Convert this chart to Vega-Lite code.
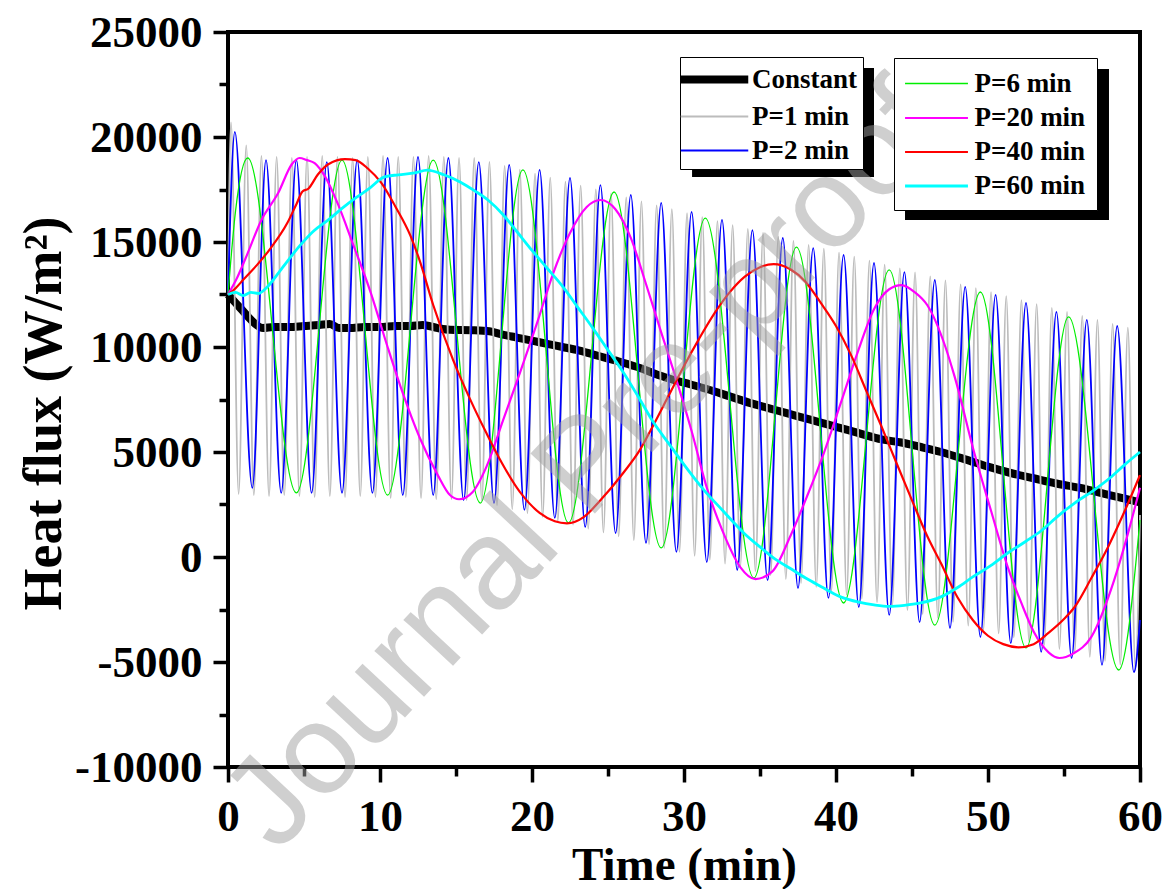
{
"$schema": "https://vega.github.io/schema/vega-lite/v6.json",
"width": 912, "height": 735,
"autosize": {"type": "none"},
"padding": {"left": 228, "top": 32, "right": 29, "bottom": 122},
"background": "white",
"config": {
  "view": {"stroke": "black", "strokeWidth": 4},
  "axis": {"domain": false, "grid": false, "tickColor": "black", "tickWidth": 3.5, "labelFont": "Liberation Serif", "labelFontWeight": "bold", "labelFontSize": 45, "labelColor": "black", "titleFont": "Liberation Serif", "titleFontWeight": "bold", "titleColor": "black", "labelFlush": false, "labelOverlap": false},
  "legend": {"labelFont": "Liberation Serif", "labelFontWeight": "bold", "labelFontSize": 27, "labelColor": "black", "strokeColor": "black", "fillColor": "white"}
},
"data": {"values": [
{"series":"Constant","t":0,"flux":12500},{"series":"Constant","t":0.5,"flux":12100},{"series":"Constant","t":1,"flux":11700},{"series":"Constant","t":1.5,"flux":11300},{"series":"Constant","t":2.3,"flux":10900},{"series":"Constant","t":3,"flux":10950},{"series":"Constant","t":4,"flux":10950},{"series":"Constant","t":5,"flux":11000},{"series":"Constant","t":6,"flux":11050},{"series":"Constant","t":6.7,"flux":11100},{"series":"Constant","t":7.3,"flux":10900},{"series":"Constant","t":8,"flux":10900},{"series":"Constant","t":9,"flux":10950},{"series":"Constant","t":10,"flux":10950},{"series":"Constant","t":11,"flux":11000},{"series":"Constant","t":12,"flux":11000},{"series":"Constant","t":12.8,"flux":11050},{"series":"Constant","t":13.8,"flux":10900},{"series":"Constant","t":14.6,"flux":10820},{"series":"Constant","t":16,"flux":10800},{"series":"Constant","t":17.2,"flux":10750},{"series":"Constant","t":18,"flux":10600},{"series":"Constant","t":19,"flux":10450},{"series":"Constant","t":20,"flux":10300},{"series":"Constant","t":21,"flux":10150},{"series":"Constant","t":22,"flux":10000},{"series":"Constant","t":23,"flux":9850},{"series":"Constant","t":24,"flux":9650},{"series":"Constant","t":25,"flux":9450},{"series":"Constant","t":26,"flux":9250},{"series":"Constant","t":27.1,"flux":9000},{"series":"Constant","t":28,"flux":8750},{"series":"Constant","t":29,"flux":8500},{"series":"Constant","t":30,"flux":8300},{"series":"Constant","t":31.5,"flux":8000},{"series":"Constant","t":33,"flux":7650},{"series":"Constant","t":34.5,"flux":7300},{"series":"Constant","t":36,"flux":7000},{"series":"Constant","t":37.5,"flux":6700},{"series":"Constant","t":39,"flux":6400},{"series":"Constant","t":40,"flux":6200},{"series":"Constant","t":41.5,"flux":5900},{"series":"Constant","t":43,"flux":5600},{"series":"Constant","t":44.3,"flux":5450},{"series":"Constant","t":45.5,"flux":5250},{"series":"Constant","t":46.9,"flux":5000},{"series":"Constant","t":48.5,"flux":4650},{"series":"Constant","t":50,"flux":4300},{"series":"Constant","t":51.5,"flux":4000},{"series":"Constant","t":53,"flux":3750},{"series":"Constant","t":54.5,"flux":3500},{"series":"Constant","t":56,"flux":3300},{"series":"Constant","t":58,"flux":2950},{"series":"Constant","t":60,"flux":2600},
{"series":"P=1 min","t":0,"flux":12500},{"series":"P=1 min","t":0.2,"flux":20700},{"series":"P=1 min","t":0.7,"flux":3000},{"series":"P=1 min","t":1.2,"flux":19600},{"series":"P=1 min","t":1.7,"flux":2950},{"series":"P=1 min","t":2.2,"flux":19100},{"series":"P=1 min","t":2.7,"flux":2900},{"series":"P=1 min","t":3.2,"flux":19050},{"series":"P=1 min","t":3.7,"flux":2950},{"series":"P=1 min","t":4.2,"flux":19000},{"series":"P=1 min","t":4.7,"flux":2900},{"series":"P=1 min","t":5.2,"flux":19050},{"series":"P=1 min","t":5.7,"flux":2850},{"series":"P=1 min","t":6.2,"flux":19100},{"series":"P=1 min","t":6.7,"flux":2900},{"series":"P=1 min","t":7.2,"flux":19050},{"series":"P=1 min","t":7.7,"flux":2850},{"series":"P=1 min","t":8.2,"flux":19000},{"series":"P=1 min","t":8.7,"flux":2900},{"series":"P=1 min","t":9.2,"flux":19050},{"series":"P=1 min","t":9.7,"flux":2850},{"series":"P=1 min","t":10.2,"flux":19100},{"series":"P=1 min","t":10.7,"flux":2800},{"series":"P=1 min","t":11.2,"flux":19050},{"series":"P=1 min","t":11.7,"flux":2850},{"series":"P=1 min","t":12.2,"flux":19050},{"series":"P=1 min","t":12.7,"flux":2800},{"series":"P=1 min","t":13.2,"flux":19100},{"series":"P=1 min","t":13.7,"flux":2750},{"series":"P=1 min","t":14.2,"flux":19050},{"series":"P=1 min","t":14.7,"flux":2750},{"series":"P=1 min","t":15.2,"flux":19000},{"series":"P=1 min","t":15.7,"flux":2700},{"series":"P=1 min","t":16.2,"flux":19000},{"series":"P=1 min","t":16.7,"flux":2650},{"series":"P=1 min","t":17.2,"flux":18810},{"series":"P=1 min","t":17.7,"flux":2460},{"series":"P=1 min","t":18.2,"flux":18620},{"series":"P=1 min","t":18.7,"flux":2280},{"series":"P=1 min","t":19.2,"flux":18440},{"series":"P=1 min","t":19.7,"flux":2090},{"series":"P=1 min","t":20.2,"flux":18250},{"series":"P=1 min","t":20.7,"flux":1910},{"series":"P=1 min","t":21.2,"flux":18060},{"series":"P=1 min","t":21.7,"flux":1720},{"series":"P=1 min","t":22.2,"flux":17870},{"series":"P=1 min","t":22.7,"flux":1540},{"series":"P=1 min","t":23.2,"flux":17680},{"series":"P=1 min","t":23.7,"flux":1350},{"series":"P=1 min","t":24.2,"flux":17500},{"series":"P=1 min","t":24.7,"flux":1170},{"series":"P=1 min","t":25.2,"flux":17310},{"series":"P=1 min","t":25.7,"flux":980},{"series":"P=1 min","t":26.2,"flux":17120},{"series":"P=1 min","t":26.7,"flux":800},{"series":"P=1 min","t":27.2,"flux":16930},{"series":"P=1 min","t":27.7,"flux":610},{"series":"P=1 min","t":28.2,"flux":16740},{"series":"P=1 min","t":28.7,"flux":430},{"series":"P=1 min","t":29.2,"flux":16560},{"series":"P=1 min","t":29.7,"flux":240},{"series":"P=1 min","t":30.2,"flux":16370},{"series":"P=1 min","t":30.7,"flux":60},{"series":"P=1 min","t":31.2,"flux":16180},{"series":"P=1 min","t":31.7,"flux":-130},{"series":"P=1 min","t":32.2,"flux":15990},{"series":"P=1 min","t":32.7,"flux":-310},{"series":"P=1 min","t":33.2,"flux":15800},{"series":"P=1 min","t":33.7,"flux":-500},{"series":"P=1 min","t":34.2,"flux":15620},{"series":"P=1 min","t":34.7,"flux":-680},{"series":"P=1 min","t":35.2,"flux":15430},{"series":"P=1 min","t":35.7,"flux":-870},{"series":"P=1 min","t":36.2,"flux":15240},{"series":"P=1 min","t":36.7,"flux":-1050},{"series":"P=1 min","t":37.2,"flux":15050},{"series":"P=1 min","t":37.7,"flux":-1240},{"series":"P=1 min","t":38.2,"flux":14860},{"series":"P=1 min","t":38.7,"flux":-1420},{"series":"P=1 min","t":39.2,"flux":14680},{"series":"P=1 min","t":39.7,"flux":-1610},{"series":"P=1 min","t":40.2,"flux":14490},{"series":"P=1 min","t":40.7,"flux":-1790},{"series":"P=1 min","t":41.2,"flux":14300},{"series":"P=1 min","t":41.7,"flux":-1980},{"series":"P=1 min","t":42.2,"flux":14110},{"series":"P=1 min","t":42.7,"flux":-2160},{"series":"P=1 min","t":43.2,"flux":13920},{"series":"P=1 min","t":43.7,"flux":-2350},{"series":"P=1 min","t":44.2,"flux":13740},{"series":"P=1 min","t":44.7,"flux":-2530},{"series":"P=1 min","t":45.2,"flux":13550},{"series":"P=1 min","t":45.7,"flux":-2720},{"series":"P=1 min","t":46.2,"flux":13360},{"series":"P=1 min","t":46.7,"flux":-2900},{"series":"P=1 min","t":47.2,"flux":13170},{"series":"P=1 min","t":47.7,"flux":-3090},{"series":"P=1 min","t":48.2,"flux":12980},{"series":"P=1 min","t":48.7,"flux":-3270},{"series":"P=1 min","t":49.2,"flux":12800},{"series":"P=1 min","t":49.7,"flux":-3460},{"series":"P=1 min","t":50.2,"flux":12610},{"series":"P=1 min","t":50.7,"flux":-3640},{"series":"P=1 min","t":51.2,"flux":12420},{"series":"P=1 min","t":51.7,"flux":-3830},{"series":"P=1 min","t":52.2,"flux":12230},{"series":"P=1 min","t":52.7,"flux":-4010},{"series":"P=1 min","t":53.2,"flux":12040},{"series":"P=1 min","t":53.7,"flux":-4200},{"series":"P=1 min","t":54.2,"flux":11860},{"series":"P=1 min","t":54.7,"flux":-4380},{"series":"P=1 min","t":55.2,"flux":11670},{"series":"P=1 min","t":55.7,"flux":-4570},{"series":"P=1 min","t":56.2,"flux":11480},{"series":"P=1 min","t":56.7,"flux":-4750},{"series":"P=1 min","t":57.2,"flux":11290},{"series":"P=1 min","t":57.7,"flux":-4940},{"series":"P=1 min","t":58.2,"flux":11100},{"series":"P=1 min","t":58.7,"flux":-5120},{"series":"P=1 min","t":59.2,"flux":10920},{"series":"P=1 min","t":59.7,"flux":-5310},{"series":"P=1 min","t":60,"flux":2000},
{"series":"P=2 min","t":0,"flux":12500},{"series":"P=2 min","t":0.45,"flux":20240},{"series":"P=2 min","t":1.6,"flux":3290},{"series":"P=2 min","t":2.5,"flux":18900},{"series":"P=2 min","t":3.5,"flux":3050},{"series":"P=2 min","t":4.5,"flux":18900},{"series":"P=2 min","t":5.5,"flux":3050},{"series":"P=2 min","t":6.5,"flux":18800},{"series":"P=2 min","t":7.5,"flux":3050},{"series":"P=2 min","t":8.5,"flux":18900},{"series":"P=2 min","t":9.5,"flux":3050},{"series":"P=2 min","t":10.5,"flux":19000},{"series":"P=2 min","t":11.5,"flux":2950},{"series":"P=2 min","t":12.5,"flux":19050},{"series":"P=2 min","t":13.5,"flux":2950},{"series":"P=2 min","t":14.5,"flux":19000},{"series":"P=2 min","t":15.5,"flux":2710},{"series":"P=2 min","t":16.5,"flux":18800},{"series":"P=2 min","t":17.5,"flux":2570},{"series":"P=2 min","t":18.5,"flux":18670},{"series":"P=2 min","t":19.5,"flux":2240},{"series":"P=2 min","t":20.5,"flux":18430},{"series":"P=2 min","t":21.5,"flux":1860},{"series":"P=2 min","t":22.5,"flux":18050},{"series":"P=2 min","t":23.5,"flux":1430},{"series":"P=2 min","t":24.5,"flux":17710},{"series":"P=2 min","t":25.5,"flux":1140},{"series":"P=2 min","t":26.5,"flux":17240},{"series":"P=2 min","t":27.5,"flux":670},{"series":"P=2 min","t":28.5,"flux":16860},{"series":"P=2 min","t":29.5,"flux":240},{"series":"P=2 min","t":30.5,"flux":16430},{"series":"P=2 min","t":31.5,"flux":-240},{"series":"P=2 min","t":32.5,"flux":16050},{"series":"P=2 min","t":33.5,"flux":-620},{"series":"P=2 min","t":34.5,"flux":15570},{"series":"P=2 min","t":35.5,"flux":-1100},{"series":"P=2 min","t":36.5,"flux":15190},{"series":"P=2 min","t":37.5,"flux":-1480},{"series":"P=2 min","t":38.5,"flux":14710},{"series":"P=2 min","t":39.5,"flux":-1950},{"series":"P=2 min","t":40.5,"flux":14380},{"series":"P=2 min","t":41.5,"flux":-2380},{"series":"P=2 min","t":42.5,"flux":14000},{"series":"P=2 min","t":43.5,"flux":-2760},{"series":"P=2 min","t":44.5,"flux":13570},{"series":"P=2 min","t":45.5,"flux":-3100},{"series":"P=2 min","t":46.5,"flux":13190},{"series":"P=2 min","t":47.5,"flux":-3380},{"series":"P=2 min","t":48.5,"flux":12860},{"series":"P=2 min","t":49.5,"flux":-3810},{"series":"P=2 min","t":50.5,"flux":12480},{"series":"P=2 min","t":51.5,"flux":-4100},{"series":"P=2 min","t":52.5,"flux":12100},{"series":"P=2 min","t":53.5,"flux":-4520},{"series":"P=2 min","t":54.5,"flux":11670},{"series":"P=2 min","t":55.5,"flux":-4810},{"series":"P=2 min","t":56.5,"flux":11290},{"series":"P=2 min","t":57.5,"flux":-5140},{"series":"P=2 min","t":58.5,"flux":11000},{"series":"P=2 min","t":59.6,"flux":-5480},{"series":"P=2 min","t":60,"flux":-3000},
{"series":"P=6 min","t":0,"flux":12500},{"series":"P=6 min","t":0.5,"flux":16500},{"series":"P=6 min","t":1.3,"flux":19000},{"series":"P=6 min","t":4.5,"flux":3050},{"series":"P=6 min","t":7.5,"flux":18900},{"series":"P=6 min","t":10.5,"flux":2950},{"series":"P=6 min","t":13.5,"flux":18900},{"series":"P=6 min","t":16.6,"flux":2570},{"series":"P=6 min","t":19.4,"flux":18430},{"series":"P=6 min","t":22.4,"flux":1620},{"series":"P=6 min","t":25.4,"flux":17380},{"series":"P=6 min","t":28.5,"flux":430},{"series":"P=6 min","t":31.4,"flux":16140},{"series":"P=6 min","t":34.6,"flux":-1000},{"series":"P=6 min","t":37.4,"flux":14760},{"series":"P=6 min","t":40.5,"flux":-2190},{"series":"P=6 min","t":43.5,"flux":13670},{"series":"P=6 min","t":46.5,"flux":-3240},{"series":"P=6 min","t":49.5,"flux":12620},{"series":"P=6 min","t":52.5,"flux":-4330},{"series":"P=6 min","t":55.3,"flux":11430},{"series":"P=6 min","t":58.6,"flux":-5380},{"series":"P=6 min","t":60,"flux":1760},
{"series":"P=20 min","t":0,"flux":12500},{"series":"P=20 min","t":0.6,"flux":13300},{"series":"P=20 min","t":1.2,"flux":14300},{"series":"P=20 min","t":2.2,"flux":16050},{"series":"P=20 min","t":3.3,"flux":17330},{"series":"P=20 min","t":4.2,"flux":18700},{"series":"P=20 min","t":4.7,"flux":19000},{"series":"P=20 min","t":5.2,"flux":18900},{"series":"P=20 min","t":5.7,"flux":18760},{"series":"P=20 min","t":6.4,"flux":18100},{"series":"P=20 min","t":7.2,"flux":16860},{"series":"P=20 min","t":8.2,"flux":14950},{"series":"P=20 min","t":9.4,"flux":12570},{"series":"P=20 min","t":10.5,"flux":10000},{"series":"P=20 min","t":11.5,"flux":7800},{"series":"P=20 min","t":12.6,"flux":5700},{"series":"P=20 min","t":13.8,"flux":3900},{"series":"P=20 min","t":14.6,"flux":2950},{"series":"P=20 min","t":15.2,"flux":2750},{"series":"P=20 min","t":16.1,"flux":3100},{"series":"P=20 min","t":17,"flux":4290},{"series":"P=20 min","t":18.1,"flux":6520},{"series":"P=20 min","t":19.2,"flux":8760},{"series":"P=20 min","t":20.4,"flux":11290},{"series":"P=20 min","t":21.4,"flux":13520},{"series":"P=20 min","t":22.5,"flux":15430},{"series":"P=20 min","t":23.6,"flux":16670},{"series":"P=20 min","t":24.5,"flux":17000},{"series":"P=20 min","t":25.5,"flux":16550},{"series":"P=20 min","t":26.5,"flux":15200},{"series":"P=20 min","t":27.5,"flux":13000},{"series":"P=20 min","t":28.5,"flux":10700},{"series":"P=20 min","t":29.3,"flux":8900},{"series":"P=20 min","t":30.5,"flux":6000},{"series":"P=20 min","t":31.5,"flux":3300},{"series":"P=20 min","t":32.5,"flux":1300},{"series":"P=20 min","t":33.7,"flux":-480},{"series":"P=20 min","t":34.7,"flux":-1050},{"series":"P=20 min","t":35.8,"flux":-700},{"series":"P=20 min","t":37,"flux":1000},{"series":"P=20 min","t":38.1,"flux":2900},{"series":"P=20 min","t":39.2,"flux":4950},{"series":"P=20 min","t":40.3,"flux":7300},{"series":"P=20 min","t":41.4,"flux":9700},{"series":"P=20 min","t":42.5,"flux":11800},{"series":"P=20 min","t":43.5,"flux":12750},{"series":"P=20 min","t":44.3,"flux":12950},{"series":"P=20 min","t":45.2,"flux":12600},{"series":"P=20 min","t":46,"flux":12000},{"series":"P=20 min","t":47.2,"flux":10000},{"series":"P=20 min","t":47.8,"flux":8600},{"series":"P=20 min","t":49.1,"flux":4950},{"series":"P=20 min","t":50.2,"flux":2200},{"series":"P=20 min","t":51.3,"flux":-480},{"series":"P=20 min","t":52.2,"flux":-2200},{"series":"P=20 min","t":53,"flux":-3550},{"series":"P=20 min","t":54,"flux":-4550},{"series":"P=20 min","t":54.7,"flux":-4810},{"series":"P=20 min","t":55.6,"flux":-4600},{"series":"P=20 min","t":56.8,"flux":-3800},{"series":"P=20 min","t":58.3,"flux":-1100},{"series":"P=20 min","t":59.2,"flux":1100},{"series":"P=20 min","t":60,"flux":3300},
{"series":"P=40 min","t":0,"flux":12500},{"series":"P=40 min","t":0.5,"flux":12800},{"series":"P=40 min","t":1,"flux":13200},{"series":"P=40 min","t":1.9,"flux":13900},{"series":"P=40 min","t":2.8,"flux":14700},{"series":"P=40 min","t":3.9,"flux":15900},{"series":"P=40 min","t":4.5,"flux":16800},{"series":"P=40 min","t":4.9,"flux":17400},{"series":"P=40 min","t":5.3,"flux":17550},{"series":"P=40 min","t":5.9,"flux":18200},{"series":"P=40 min","t":6.6,"flux":18700},{"series":"P=40 min","t":7.7,"flux":18950},{"series":"P=40 min","t":8.4,"flux":18900},{"series":"P=40 min","t":9.2,"flux":18500},{"series":"P=40 min","t":10.1,"flux":17800},{"series":"P=40 min","t":11,"flux":16700},{"series":"P=40 min","t":12,"flux":15300},{"series":"P=40 min","t":12.6,"flux":14140},{"series":"P=40 min","t":13.5,"flux":12000},{"series":"P=40 min","t":14.8,"flux":9400},{"series":"P=40 min","t":16,"flux":7400},{"series":"P=40 min","t":17,"flux":5900},{"series":"P=40 min","t":18,"flux":4500},{"series":"P=40 min","t":19.2,"flux":3100},{"series":"P=40 min","t":20.5,"flux":2100},{"series":"P=40 min","t":21.5,"flux":1700},{"series":"P=40 min","t":22.3,"flux":1600},{"series":"P=40 min","t":23.4,"flux":1900},{"series":"P=40 min","t":24.5,"flux":2700},{"series":"P=40 min","t":26,"flux":4000},{"series":"P=40 min","t":27.1,"flux":5100},{"series":"P=40 min","t":28,"flux":6300},{"series":"P=40 min","t":29,"flux":7700},{"series":"P=40 min","t":30,"flux":9100},{"series":"P=40 min","t":31,"flux":10400},{"series":"P=40 min","t":32,"flux":11600},{"series":"P=40 min","t":33,"flux":12600},{"series":"P=40 min","t":34,"flux":13350},{"series":"P=40 min","t":35,"flux":13800},{"series":"P=40 min","t":35.9,"flux":13950},{"series":"P=40 min","t":37,"flux":13700},{"series":"P=40 min","t":38,"flux":13100},{"series":"P=40 min","t":39,"flux":12100},{"series":"P=40 min","t":40,"flux":11000},{"series":"P=40 min","t":41,"flux":9600},{"series":"P=40 min","t":42,"flux":7900},{"series":"P=40 min","t":43,"flux":6200},{"series":"P=40 min","t":44,"flux":4440},{"series":"P=40 min","t":45,"flux":2700},{"series":"P=40 min","t":46,"flux":1000},{"series":"P=40 min","t":46.9,"flux":-290},{"series":"P=40 min","t":48,"flux":-1930},{"series":"P=40 min","t":49,"flux":-3000},{"series":"P=40 min","t":50,"flux":-3750},{"series":"P=40 min","t":51,"flux":-4150},{"series":"P=40 min","t":52,"flux":-4300},{"series":"P=40 min","t":53,"flux":-4150},{"series":"P=40 min","t":54,"flux":-3600},{"series":"P=40 min","t":55,"flux":-2950},{"series":"P=40 min","t":55.7,"flux":-2380},{"series":"P=40 min","t":56.8,"flux":-1000},{"series":"P=40 min","t":57.9,"flux":480},{"series":"P=40 min","t":59,"flux":2200},{"series":"P=40 min","t":60,"flux":3900},
{"series":"P=60 min","t":0,"flux":12500},{"series":"P=60 min","t":0.5,"flux":12600},{"series":"P=60 min","t":1,"flux":12450},{"series":"P=60 min","t":1.5,"flux":12600},{"series":"P=60 min","t":2,"flux":12550},{"series":"P=60 min","t":2.5,"flux":12800},{"series":"P=60 min","t":3.5,"flux":13700},{"series":"P=60 min","t":4.7,"flux":14800},{"series":"P=60 min","t":5.6,"flux":15500},{"series":"P=60 min","t":6.6,"flux":16050},{"series":"P=60 min","t":7.5,"flux":16600},{"series":"P=60 min","t":8.4,"flux":17100},{"series":"P=60 min","t":9.3,"flux":17550},{"series":"P=60 min","t":10.3,"flux":18100},{"series":"P=60 min","t":11.2,"flux":18200},{"series":"P=60 min","t":12.3,"flux":18290},{"series":"P=60 min","t":13.1,"flux":18420},{"series":"P=60 min","t":14.2,"flux":18200},{"series":"P=60 min","t":15.3,"flux":17850},{"series":"P=60 min","t":16.2,"flux":17450},{"series":"P=60 min","t":17.1,"flux":17000},{"series":"P=60 min","t":18.1,"flux":16300},{"series":"P=60 min","t":19,"flux":15500},{"series":"P=60 min","t":20,"flux":14600},{"series":"P=60 min","t":21,"flux":13750},{"series":"P=60 min","t":22,"flux":12900},{"series":"P=60 min","t":23,"flux":11900},{"series":"P=60 min","t":24,"flux":10900},{"series":"P=60 min","t":25,"flux":9850},{"series":"P=60 min","t":26,"flux":8800},{"series":"P=60 min","t":27.1,"flux":7500},{"series":"P=60 min","t":28,"flux":6400},{"series":"P=60 min","t":29,"flux":5400},{"series":"P=60 min","t":30,"flux":4400},{"series":"P=60 min","t":31.3,"flux":3200},{"series":"P=60 min","t":32.5,"flux":2250},{"series":"P=60 min","t":34,"flux":1100},{"series":"P=60 min","t":35,"flux":480},{"series":"P=60 min","t":36,"flux":-100},{"series":"P=60 min","t":37,"flux":-550},{"series":"P=60 min","t":38,"flux":-1000},{"series":"P=60 min","t":39,"flux":-1400},{"series":"P=60 min","t":40.3,"flux":-1900},{"series":"P=60 min","t":41.5,"flux":-2150},{"series":"P=60 min","t":42.5,"flux":-2280},{"series":"P=60 min","t":43.5,"flux":-2350},{"series":"P=60 min","t":44.5,"flux":-2300},{"series":"P=60 min","t":45.5,"flux":-2200},{"series":"P=60 min","t":46.9,"flux":-1900},{"series":"P=60 min","t":48,"flux":-1450},{"series":"P=60 min","t":49,"flux":-950},{"series":"P=60 min","t":50.2,"flux":-400},{"series":"P=60 min","t":51.3,"flux":190},{"series":"P=60 min","t":52.5,"flux":750},{"series":"P=60 min","t":53.5,"flux":1250},{"series":"P=60 min","t":54.6,"flux":1950},{"series":"P=60 min","t":55.7,"flux":2570},{"series":"P=60 min","t":57,"flux":3200},{"series":"P=60 min","t":58,"flux":3750},{"series":"P=60 min","t":59,"flux":4400},{"series":"P=60 min","t":60,"flux":5000}
]},
"layer": [
  {
    "transform": [{"filter": {"field": "series", "oneOf": ["Constant", "P=1 min", "P=2 min"]}}],
    "mark": {"type": "line", "interpolate": "monotone"},
    "encoding": {
      "x": {"field": "t", "type": "quantitative", "scale": {"domain": [0, 60], "nice": false, "zero": false},
        "axis": {"title": "Time (min)", "values": [0,5,10,15,20,25,30,35,40,45,50,55,60],
          "labelExpr": "datum.value % 10 === 0 ? '' + datum.value : ''",
          "tickSize": {"condition": {"test": "datum.value % 10 === 0", "value": 15}, "value": 9},
          "labelPadding": 12, "titleFontSize": 47, "titleX": 456, "titleY": 112, "titleBaseline": "alphabetic", "titleAlign": "center"}},
      "y": {"field": "flux", "type": "quantitative", "scale": {"domain": [-10000, 25000], "nice": false, "zero": false},
        "axis": {"title": "Heat flux (W/m²)", "values": [-10000,-7500,-5000,-2500,0,2500,5000,7500,10000,12500,15000,17500,20000,22500,25000],
          "labelExpr": "datum.value % 5000 === 0 ? '' + datum.value : ''",
          "tickSize": {"condition": {"test": "datum.value % 5000 === 0", "value": 15}, "value": 9},
          "labelPadding": 11, "titleFontSize": 54, "titleAngle": -90, "titleX": -168, "titleY": 381, "titleBaseline": "alphabetic", "titleAlign": "center"}},
      "color": {"field": "series", "type": "nominal",
        "scale": {"domain": ["Constant", "P=1 min", "P=2 min"], "range": ["#000000", "#bcbcbc", "#0000ff"]},
        "legend": {"title": null, "orient": "none", "legendX": 452, "legendY": 25, "padding": 5, "symbolType": "M-2.5,0H2.5", "symbolSize": 729, "symbolOffset": 12, "labelOffset": 20, "rowPadding": 6}},
      "strokeWidth": {"field": "series", "type": "nominal",
        "scale": {"type": "ordinal", "domain": ["Constant", "P=1 min", "P=2 min"], "range": [8, 1.8, 1.8]},
        "legend": {"title": null, "orient": "none", "legendX": 452, "legendY": 25, "padding": 5, "symbolType": "M-2.5,0H2.5", "symbolSize": 729, "symbolOffset": 12, "labelOffset": 20, "rowPadding": 6}}
    }
  },
  {
    "transform": [{"filter": {"field": "series", "oneOf": ["P=6 min", "P=20 min", "P=40 min", "P=60 min"]}}],
    "mark": {"type": "line", "interpolate": "monotone"},
    "encoding": {
      "x": {"field": "t", "type": "quantitative", "scale": {"domain": [0, 60], "nice": false, "zero": false}, "axis": {"title": "Time (min)"}},
      "y": {"field": "flux", "type": "quantitative", "scale": {"domain": [-10000, 25000], "nice": false, "zero": false}, "axis": {"title": "Heat flux (W/m²)"}},
      "color": {"field": "series", "type": "nominal",
        "scale": {"domain": ["P=6 min", "P=20 min", "P=40 min", "P=60 min"], "range": ["#00ee00", "#ff00ff", "#ff0000", "#00ffff"]},
        "legend": {"title": null, "orient": "none", "legendX": 666, "legendY": 26, "padding": 11, "symbolType": "M-2.33,0H2.33", "symbolSize": 729, "symbolOffset": 16.5, "labelOffset": 23, "rowPadding": 6}},
      "strokeWidth": {"field": "series", "type": "nominal",
        "scale": {"type": "ordinal", "domain": ["P=6 min", "P=20 min", "P=40 min", "P=60 min"], "range": [1.3, 2.2, 2.2, 2.8]},
        "legend": {"title": null, "orient": "none", "legendX": 666, "legendY": 26, "padding": 11, "symbolType": "M-2.33,0H2.33", "symbolSize": 729, "symbolOffset": 16.5, "labelOffset": 23, "rowPadding": 6}}
    }
  },
  {
    "data": {"values": [{"item": "shadow"}]},
    "mark": {"type": "rect", "color": "black"},
    "encoding": {"x": {"datum": 30.53, "type": "quantitative"}, "x2": {"datum": 42.5}, "y": {"datum": 23286, "type": "quantitative"}, "y2": {"datum": 18095}}
  },
  {
    "data": {"values": [{"item": "shadow"}]},
    "mark": {"type": "rect", "color": "black"},
    "encoding": {"x": {"datum": 44.54, "type": "quantitative"}, "x2": {"datum": 57.96}, "y": {"datum": 23238, "type": "quantitative"}, "y2": {"datum": 16048}}
  },
  {
    "data": {"values": [{"label": "Journal Pre-proof"}]},
    "mark": {"type": "text", "angle": -47, "font": "Liberation Sans", "fontSize": 128, "color": "#a0a0a0", "opacity": 0.5},
    "encoding": {"text": {"field": "label"}, "x": {"datum": 23.6, "type": "quantitative"}, "y": {"datum": 4300, "type": "quantitative"}}
  }
],
"resolve": {"scale": {"color": "independent", "strokeWidth": "independent"}, "legend": {"color": "independent", "strokeWidth": "independent"}}
}
